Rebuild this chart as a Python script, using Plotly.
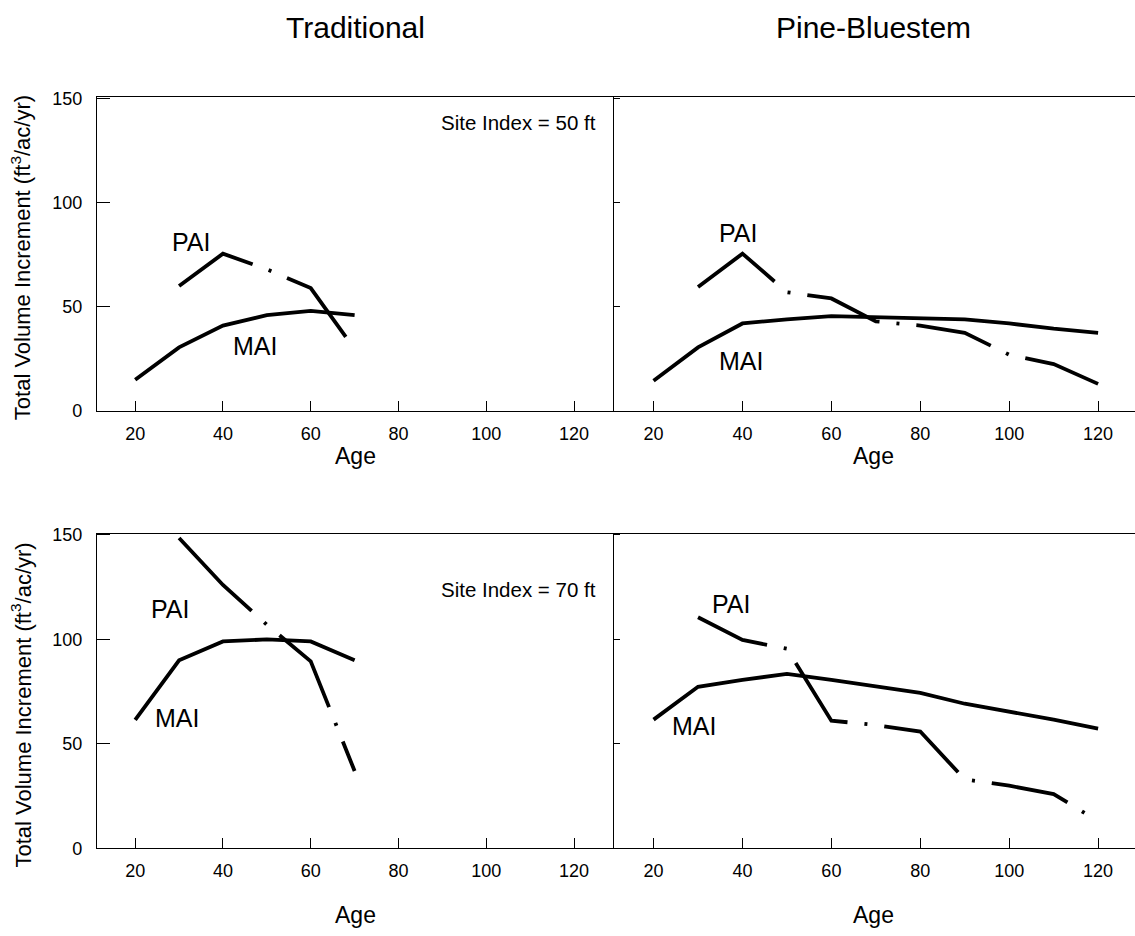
import plotly.graph_objects as go

# ---------------- data ----------------
ages_trad_mai = [20, 30, 40, 50, 60, 70]
ages_trad_pai = [30, 40, 50, 60, 70]
ages_si50_trad_pai = [30, 40, 50, 60, 68]
ages_pb_mai = [20, 30, 40, 50, 60, 70, 80, 90, 100, 110, 120]
ages_pb_pai = [30, 40, 50, 60, 70, 80, 90, 100, 110, 120]

si50_trad_mai = [15, 30.5, 41, 46, 48, 46]
si50_trad_pai = [60, 75.5, 68, 59, 35.5]
si50_pb_mai = [14.5, 30.5, 42, 44, 45.5, 45, 44.8, 44, 42, 39.5, 37.5]
si50_pb_pai = [59.5, 75.5, 57, 54, 43, 41, 37.5, 27, 22.5, 13]

si70_trad_mai = [61.5, 90, 99, 100, 99, 90]
si70_trad_pai = [148.5, 126, 107, 89.5, 37]
si70_pb_mai = [61.6, 77.3, 80.6, 83.5, 80.6, 77.3, 74.4, 69.2, 65.4, 61.6, 57.3]
si70_pb_pai = [110.6, 99.7, 95.5, 61.1, 59, 55.9, 33, 30, 26, 13]

panel_titles = ["Traditional", "Pine-Bluestem"]
site_labels = ["Site Index = 50 ft", "Site Index = 70 ft"]
x_ticks = [20, 40, 60, 80, 100, 120]
y_ticks = [0, 50, 100, 150]

# ---------------- figure ----------------
W, H = 1135, 936
FONT = "Liberation Sans, Arial, Helvetica, sans-serif"
LW = 3.8

# long-dash / dot patterns, as drawn in each panel
DASH_TL = "86px,17px,3px,17px"
DASH_TR = "98px,17px,3px,17px,78px,17px,3px,17px,78px,17px,3px,17px,78px,17px,3px,17px,78px,17px,3px,17px"
DASH_BL = "103px,17px,3px,17px,90px,17px,3px,17px,90px,17px,3px,17px"
DASH_BR = "75px,17px,3px,17px,84px,17px,3px,17px,92px,17px,3px,17px,79px,17px,3px,17px,90px,17px,3px,17px"

fig = go.Figure()

panels = [
    ("x", "y", ages_trad_mai, si50_trad_mai, ages_si50_trad_pai, si50_trad_pai, DASH_TL),
    ("x2", "y2", ages_pb_mai, si50_pb_mai, ages_pb_pai, si50_pb_pai, DASH_TR),
    ("x3", "y3", ages_trad_mai, si70_trad_mai, ages_trad_pai, si70_trad_pai, DASH_BL),
    ("x4", "y4", ages_pb_mai, si70_pb_mai, ages_pb_pai, si70_pb_pai, DASH_BR),
]
for xa, ya, xm, ym, xp, yp, dash in panels:
    fig.add_trace(go.Scatter(x=xm, y=ym, mode="lines", xaxis=xa, yaxis=ya,
                             line=dict(color="black", width=LW), showlegend=False,
                             hoverinfo="skip"))
    fig.add_trace(go.Scatter(x=xp, y=yp, mode="lines", xaxis=xa, yaxis=ya,
                             line=dict(color="black", width=LW, dash=dash),
                             showlegend=False, hoverinfo="skip"))

def px_x(p):
    return p / W

# vertical compensation for how the page is photographed
def px_y(p):
    return 1 - ((p - 8.5) / 0.981) / H

x_left = [px_x(97), px_x(614)]
x_right = [px_x(614), 1.0]
y_top = [px_y(411), px_y(97)]
y_bot = [px_y(849), px_y(534)]

def xaxis(domain, anchor, rng):
    return dict(domain=domain, anchor=anchor, range=rng, tickvals=x_ticks,
                ticks="inside", ticklen=10, tickwidth=1.3, tickcolor="black",
                showline=True, linecolor="black", linewidth=1.3, mirror=True,
                showgrid=False, zeroline=False, ticklabelstandoff=6,
                tickfont=dict(family=FONT, size=18, color="black"))

def yaxis(domain, anchor, labels, ticklen):
    return dict(domain=domain, anchor=anchor, range=[0, 150.5], tickvals=y_ticks,
                ticks="inside", ticklen=ticklen, tickwidth=1.3, tickcolor="black",
                showline=True, linecolor="black", linewidth=1.3, mirror=False,
                showgrid=False, zeroline=False, showticklabels=labels,
                ticklabelstandoff=10,
                tickfont=dict(family=FONT, size=18, color="black"))

fig.update_layout(
    width=W, height=H, margin=dict(l=0, r=0, t=0, b=0),
    paper_bgcolor="white", plot_bgcolor="white",
    font=dict(family=FONT, color="black"),
    xaxis=xaxis(x_left, "y", [11.3, 129.1]),
    yaxis=yaxis(y_top, "x", True, 13),
    xaxis2=xaxis(x_right, "y2", [11.1, 128.3]),
    yaxis2=yaxis(y_top, "x2", False, 6),
    xaxis3=xaxis(x_left, "y3", [11.3, 129.1]),
    yaxis3=yaxis(y_bot, "x3", True, 13),
    xaxis4=xaxis(x_right, "y4", [11.1, 128.3]),
    yaxis4=yaxis(y_bot, "x4", False, 6),
)

ann = []
# column titles
for t, cx in zip(panel_titles, [355, 873]):
    ann.append(dict(text=t, x=px_x(cx), y=px_y(27), xref="paper", yref="paper",
                    showarrow=False, xanchor="center", yanchor="middle",
                    font=dict(family=FONT, size=30, color="black")))
# Age labels
for cx in [356, 873]:
    for cy in [456, 916]:
        ann.append(dict(text="Age", x=px_x(cx), y=px_y(cy), xref="paper", yref="paper",
                        showarrow=False, xanchor="center", yanchor="middle",
                        font=dict(family=FONT, size=23, color="black")))
# y titles
for cy in [258, 706]:
    ann.append(dict(text="Total Volume Increment (ft<sup>3</sup>/ac/yr)",
                    x=px_x(21), y=px_y(cy), xref="paper", yref="paper",
                    showarrow=False, xanchor="center", yanchor="middle", textangle=-90,
                    font=dict(family=FONT, size=22, color="black")))
# site index labels
for t, cy in zip(site_labels, [122, 590]):
    ann.append(dict(text=t, x=px_x(598), y=px_y(cy), xref="paper", yref="paper",
                    showarrow=False, xanchor="right", yanchor="middle",
                    font=dict(family=FONT, size=20.5, color="black")))
# PAI / MAI labels (data coords)
curve_labels = [
    ("x", "y", "PAI", 32.8, 81), ("x", "y", "MAI", 47.3, 31),
    ("x2", "y2", "PAI", 39, 85.5), ("x2", "y2", "MAI", 39.6, 24.2),
    ("x3", "y3", "PAI", 28, 114.4), ("x3", "y3", "MAI", 29.6, 62.2),
    ("x4", "y4", "PAI", 37.5, 116.7), ("x4", "y4", "MAI", 29, 58.6),
]
for xa, ya, t, lx, ly in curve_labels:
    ann.append(dict(text=t, x=lx, y=ly, xref=xa, yref=ya, showarrow=False,
                    xanchor="center", yanchor="middle",
                    font=dict(family=FONT, size=25, color="black")))

fig.update_layout(annotations=ann)
fig.write_html("out.html")
